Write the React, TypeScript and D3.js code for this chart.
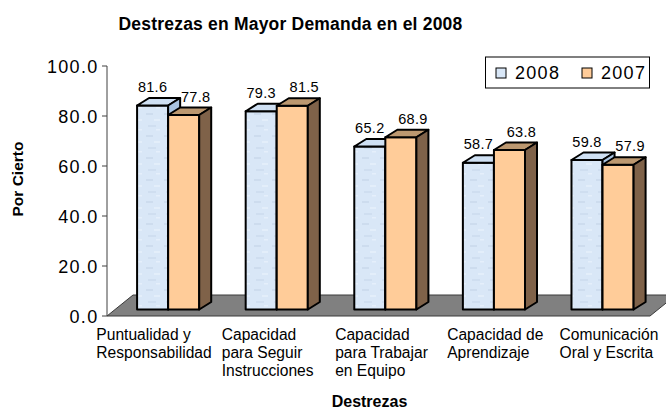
import React, { useLayoutEffect, useRef } from "react";
import * as d3 from "d3";

const categories = [
  "Puntualidad y\nResponsabilidad",
  "Capacidad\npara Seguir\nInstrucciones",
  "Capacidad\npara Trabajar\nen Equipo",
  "Capacidad de\nAprendizaje",
  "Comunicación\nOral y Escrita",
];
const series = ["2008", "2007"];
const values2008 = [81.6, 79.3, 65.2, 58.7, 59.8];
const values2007 = [77.8, 81.5, 68.9, 63.8, 57.9];
const yTicks = [0, 20, 40, 60, 80, 100];

const W = 666;
const H = 410;
const FONT = "'Liberation Sans', Arial, sans-serif";

const colors: Record<string, { front: string; top: string; side: string }> = {
  "2008": { front: "url(#bluetex)", top: "#cfe0f3", side: "#a9c3e0" },
  "2007": { front: "#ffcc99", top: "#bc9870", side: "#7f6249" },
};

export default function App() {
  const labelRef = useRef<SVGGElement | null>(null);

  const y = d3.scaleLinear().domain([0, 100]).range([316, 66]);
  const x0 = d3.scaleBand<string>().domain(categories).range([107, 650]);
  const bw = x0.bandwidth();
  const x1 = d3
    .scaleBand<string>()
    .domain(series)
    .range([bw * 0.277, bw * 0.277 + bw * 0.572]);
  const labelX = d3.scalePoint<string>().domain(categories).range([154, 609]);

  // 3D geometry
  const floorDx = 26;
  const floorDy = -21;
  const barShiftY = -6.5;
  const barDx = 12;
  const barDy = -7.5;

  const data = categories.map((c, i) => ({
    cat: c,
    vals: [
      { s: "2008", v: values2008[i] },
      { s: "2007", v: values2007[i] },
    ],
  }));

  useLayoutEffect(() => {
    const g = labelRef.current;
    if (!g) return;
    d3.select(g)
      .selectAll<SVGGElement, unknown>("g.cat")
      .each(function () {
        const bb = this.getBBox();
        const cx = Number(this.getAttribute("data-cx"));
        d3.select(this).attr("transform", `translate(${cx - bb.width / 2},0)`);
      });
  }, []);

  const y0 = y(0);

  return (
    <svg
      width={W}
      height={H}
      style={{ position: "absolute", left: 0, top: 0, background: "#fff" }}
      fontFamily={FONT}
    >
      <defs>
        <pattern id="bluetex" width="18" height="22" patternUnits="userSpaceOnUse">
          <rect width="18" height="22" fill="#d9e7f7" />
          <rect x="2" y="3" width="7" height="2" fill="#cddcee" />
          <rect x="10" y="9" width="6" height="2" fill="#e3eefa" />
          <rect x="4" y="15" width="8" height="2" fill="#cfdef0" />
          <rect x="12" y="19" width="4" height="1.5" fill="#e5effb" />
        </pattern>
      </defs>

      {/* Title */}
      <text
        x={290.5}
        y={29.5}
        textAnchor="middle"
        fontSize={17.5}
        fontWeight="bold"
        letterSpacing={0.2}
      >
        Destrezas en Mayor Demanda en el 2008
      </text>

      {/* Floor */}
      <path
        d={`M${x0.range()[0]},${y0} L${x0.range()[1]},${y0} L${x0.range()[1] + floorDx},${y0 + floorDy} L${x0.range()[0] + floorDx},${y0 + floorDy} Z`}
        fill="#808080"
        stroke="#3a3a3a"
        strokeWidth={1}
      />

      {/* Y axis */}
      <line x1={107} x2={107} y1={y(100)} y2={y0} stroke="#404040" strokeWidth={1} />
      {yTicks.map((t) => (
        <g key={t}>
          <line x1={102} x2={107} y1={y(t)} y2={y(t)} stroke="#404040" />
          <text
            x={98.5}
            y={y(t) + 6.8}
            textAnchor="end"
            fontSize={18}
            letterSpacing={1.3}
          >
            {t.toFixed(1)}
          </text>
        </g>
      ))}

      {/* Bars */}
      {data.map((d) => (
        <g key={d.cat}>
          {d.vals.map((b) => {
            const xl = (x0(d.cat) as number) + (x1(b.s) as number);
            const w = x1.bandwidth();
            const yt = y(b.v) + barShiftY;
            const yb = y0 + barShiftY;
            const c = colors[b.s];
            return (
              <g key={b.s} stroke="#000" strokeWidth={2} strokeLinejoin="round">
                <rect x={xl} y={yt} width={w} height={yb - yt} fill={c.front} />
                <path
                  d={`M${xl},${yt} L${xl + barDx},${yt + barDy} L${xl + w + barDx},${yt + barDy} L${xl + w},${yt} Z`}
                  fill={c.top}
                />
                <path
                  d={`M${xl + w},${yt} L${xl + w + barDx},${yt + barDy} L${xl + w + barDx},${yb + barDy} L${xl + w},${yb} Z`}
                  fill={c.side}
                />
              </g>
            );
          })}
        </g>
      ))}

      {/* Data labels */}
      {data.map((d) =>
        d.vals.map((b) => {
          const xl = (x0(d.cat) as number) + (x1(b.s) as number);
          const w = x1.bandwidth();
          const cx = xl + w / 2 + (b.s === "2007" ? barDx : 0);
          return (
            <text
              key={d.cat + b.s}
              x={cx}
              y={y(b.v) + barShiftY - 13.5}
              textAnchor="middle"
              fontSize={14.5}
              letterSpacing={0.3}
            >
              {b.v.toFixed(1)}
            </text>
          );
        })
      )}

      {/* Category labels */}
      <g ref={labelRef}>
        {categories.map((c) => (
          <g key={c} className="cat" data-cx={labelX(c)}>
            {c.split("\n").map((line, j) => (
              <text key={j} x={0} y={340 + j * 17.8} fontSize={15.6}>
                {line}
              </text>
            ))}
          </g>
        ))}
      </g>

      {/* Axis titles */}
      <text
        x={369.5}
        y={406.5}
        textAnchor="middle"
        fontSize={16}
        fontWeight="bold"
      >
        Destrezas
      </text>
      <text
        transform="translate(23.3,179) rotate(-90)"
        textAnchor="middle"
        fontSize={15.5}
        fontWeight="bold"
      >
        Por Cierto
      </text>

      {/* Legend */}
      <rect x={485.5} y={57} width={164} height={31} fill="#fff" stroke="#000" strokeWidth={1} />
      {series.map((s, i) => {
        const sx = i === 0 ? 496 : 582;
        return (
          <g key={s}>
            <rect
              x={sx}
              y={68}
              width={10}
              height={10}
              fill={s === "2008" ? "#d9e7f7" : "#ffcc99"}
              stroke="#000"
              strokeWidth={1}
            />
            <text x={sx + 19} y={79} fontSize={18} letterSpacing={1.3}>
              {s}
            </text>
          </g>
        );
      })}
    </svg>
  );
}
